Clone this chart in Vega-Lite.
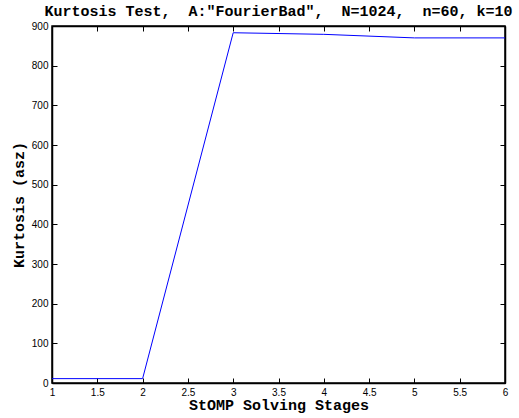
{
  "$schema": "https://vega.github.io/schema/vega-lite/v6.json",
  "width": 453,
  "height": 357,
  "autosize": {"type": "none"},
  "padding": {"left": 52, "top": 26, "right": 14, "bottom": 35},
  "background": "white",
  "title": {
    "text": "Kurtosis Test, \u00a0A:\"FourierBad\", \u00a0N=1024, \u00a0n=60, k=10",
    "font": "Liberation Mono",
    "fontSize": 15,
    "fontWeight": "bold",
    "color": "black",
    "anchor": "middle",
    "baseline": "alphabetic",
    "offset": -10
  },
  "config": {
    "view": {"stroke": "black", "strokeWidth": 1.5},
    "axis": {
      "domainColor": "black",
      "domainWidth": 1.5,
      "tickColor": "black",
      "tickWidth": 1,
      "tickSize": -5,
      "grid": false,
      "minExtent": 0,
      "labelFont": "Liberation Sans",
      "labelFontSize": 10,
      "labelColor": "black",
      "titleFont": "Liberation Mono",
      "titleFontSize": 15,
      "titleFontWeight": "bold",
      "titleColor": "black"
    }
  },
  "data": {
    "values": [
      {"stage": 1, "kurtosis": 11},
      {"stage": 2, "kurtosis": 11},
      {"stage": 3, "kurtosis": 883},
      {"stage": 4, "kurtosis": 879},
      {"stage": 5, "kurtosis": 870},
      {"stage": 6, "kurtosis": 870}
    ]
  },
  "layer": [
    {
      "mark": {"type": "line", "color": "#0000ff", "strokeWidth": 1},
      "encoding": {
        "x": {
          "field": "stage", "type": "quantitative",
          "scale": {"domain": [1, 6], "nice": false, "zero": false},
          "axis": {"values": [1, 1.5, 2, 2.5, 3, 3.5, 4, 4.5, 5, 5.5, 6], "format": "~g", "title": "StOMP Solving Stages", "labelPadding": 9, "titlePadding": 0, "labelFlush": false}
        },
        "y": {
          "field": "kurtosis", "type": "quantitative",
          "scale": {"domain": [0, 900], "nice": false},
          "axis": {"values": [0, 100, 200, 300, 400, 500, 600, 700, 800, 900], "title": "Kurtosis (asz)", "labelPadding": 9, "titlePadding": 5, "labelFlush": false}
        }
      }
    },
    {
      "mark": {"type": "line", "opacity": 0},
      "encoding": {
        "x": {
          "field": "stage", "type": "quantitative",
          "scale": {"domain": [1, 6], "nice": false, "zero": false},
          "axis": {"orient": "top", "values": [1, 1.5, 2, 2.5, 3, 3.5, 4, 4.5, 5, 5.5, 6], "labels": false, "title": null, "minExtent": 0, "maxExtent": 0}
        },
        "y": {
          "field": "kurtosis", "type": "quantitative",
          "scale": {"domain": [0, 900], "nice": false},
          "axis": {"orient": "right", "values": [0, 100, 200, 300, 400, 500, 600, 700, 800, 900], "labels": false, "title": null, "minExtent": 0, "maxExtent": 0}
        }
      }
    }
  ],
  "resolve": {"axis": {"x": "independent", "y": "independent"}}
}
